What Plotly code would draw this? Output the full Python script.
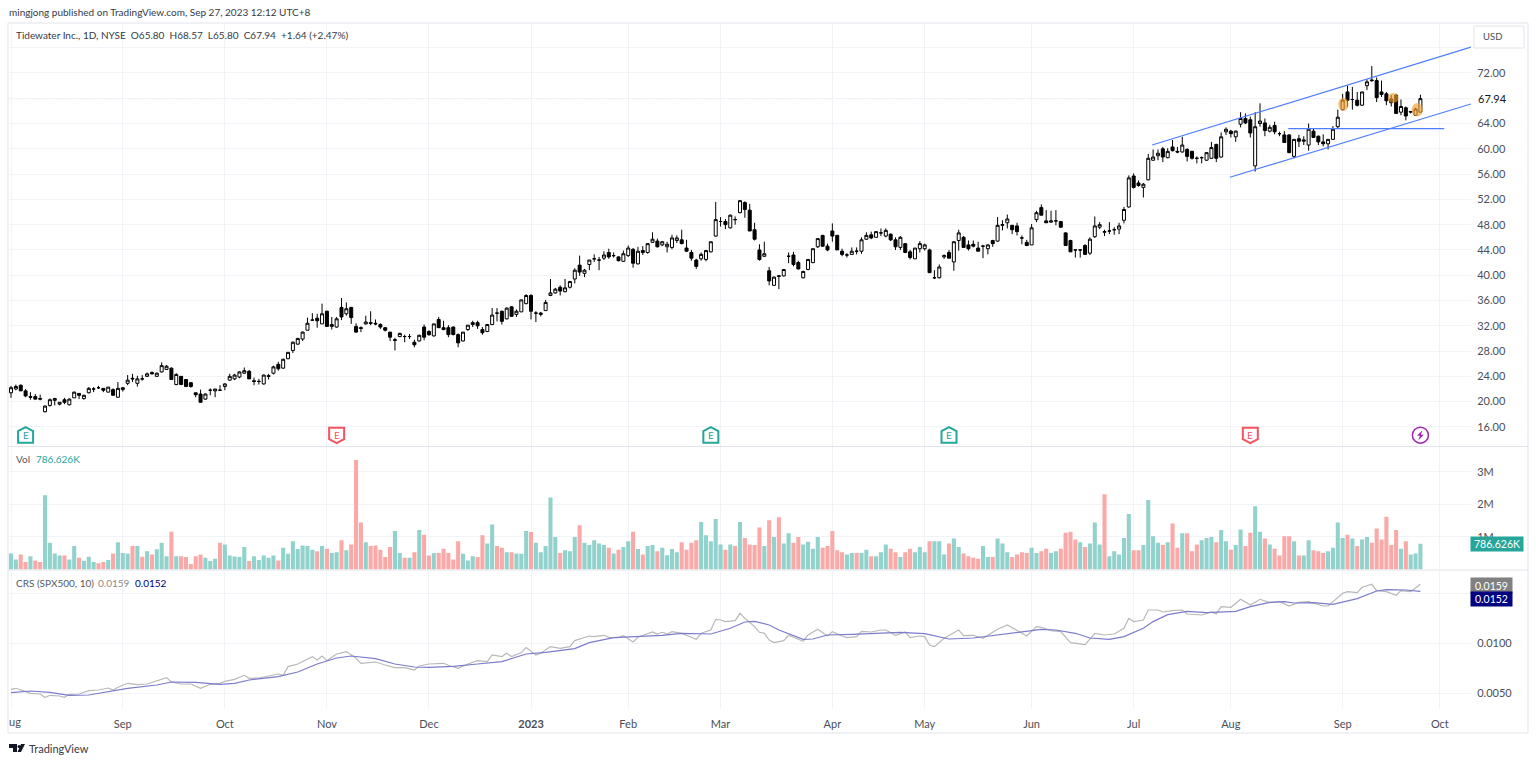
import plotly.graph_objects as go
from plotly.subplots import make_subplots

# Tidewater daily bars, Aug 2022 - Sep 26 2023, one row per 10 bars
opens = [
    21.4, 22.0, 22.6, 21.7, 20.8, 20.8, 20.5, 18.4, 19.4, 20.2,
    19.6, 20.3, 19.5, 20.6, 21.3, 20.5, 21.4, 22.0, 22.2, 22.1,
    21.5, 21.9, 20.7, 21.9, 22.9, 23.7, 22.9, 23.6, 24.0, 24.6,
    24.0, 24.7, 25.1, 25.3, 22.7, 24.0, 23.5, 23.0, 21.4, 21.2,
    20.4, 21.8, 21.7, 21.8, 22.4, 23.4, 23.6, 23.9, 24.5, 24.8,
    23.3, 23.2, 22.8, 24.1, 24.5, 25.9, 25.3, 26.8, 28.1, 29.1,
    29.9, 31.3, 32.9, 33.2, 32.3, 34.3, 31.9, 31.8, 34.9, 33.9,
    34.9, 31.9, 31.7, 32.3, 32.5, 32.4, 32.2, 31.7, 31.0, 29.8,
    30.3, 30.3, 30.3, 29.4, 29.6, 31.8, 31.1, 30.4, 33.0, 31.7,
    31.7, 31.8, 30.6, 29.6, 31.4, 32.2, 32.5, 31.4, 31.1, 32.2,
    34.0, 34.3, 33.1, 35.0, 33.8, 34.2, 35.5, 36.8, 34.0, 33.8,
    34.4, 36.8, 37.2, 38.1, 37.4, 38.1, 39.4, 41.6, 40.3, 41.7,
    42.6, 42.4, 42.7, 43.6, 43.1, 42.9, 42.2, 43.1, 44.1, 41.8,
    43.9, 43.6, 45.2, 45.4, 44.8, 44.5, 44.4, 45.5, 45.6, 44.3,
    43.6, 42.4, 42.6, 42.5, 43.7, 46.2, 48.5, 48.5, 47.5, 48.8,
    49.9, 51.5, 50.3, 47.2, 44.0, 43.0, 40.7, 38.4, 39.8, 39.9,
    43.0, 43.2, 42.0, 39.6, 40.9, 42.0, 44.5, 46.3, 44.6, 47.0,
    46.3, 43.8, 43.2, 43.3, 43.8, 43.8, 45.7, 46.4, 46.0, 46.7,
    46.2, 46.5, 45.6, 44.4, 45.0, 43.7, 42.6, 44.2, 44.2, 44.0,
    39.6, 39.6, 42.9, 43.6, 42.1, 45.5, 46.0, 44.8, 44.9, 44.3,
    44.6, 44.2, 45.5, 45.4, 47.9, 48.3, 47.9, 47.8, 45.9, 45.2,
    44.8, 48.8, 50.7, 48.6, 48.4, 48.6, 48.5, 46.7, 45.5, 44.0,
    44.0, 44.7, 43.5, 46.1, 47.6, 46.8, 47.0, 47.2, 47.3, 48.7,
    50.8, 55.7, 54.6, 53.9, 55.1, 58.2, 58.9, 60.0, 58.6, 60.3,
    59.6, 59.5, 59.9, 59.6, 58.5, 58.6, 58.2, 58.5, 60.7, 58.7,
    62.7, 62.8, 61.9, 63.9, 64.8, 64.6, 57.3, 64.0, 64.1, 62.8,
    63.7, 62.4, 62.2, 62.2, 58.8, 61.6, 61.2, 60.6, 62.8, 62.0,
    61.1, 60.8, 61.5, 63.5, 66.2, 69.0, 67.8, 67.7, 66.9, 70.0,
    70.9, 70.8, 69.0, 68.7, 67.9, 68.5, 65.8, 66.5, 65.8, 65.3, 65.80,
]
highs = [
    22.5, 22.7, 22.7, 22.0, 21.5, 21.2, 21.1, 19.4, 20.5, 20.6,
    19.9, 20.6, 20.5, 21.6, 21.3, 21.1, 22.3, 22.3, 22.5, 22.1,
    22.3, 22.1, 23.1, 22.3, 24.2, 24.4, 24.1, 24.2, 24.6, 24.8,
    24.6, 26.2, 25.8, 25.4, 24.5, 24.0, 23.5, 23.1, 21.4, 21.9,
    21.3, 22.1, 22.0, 22.6, 22.9, 24.4, 24.4, 24.8, 25.4, 25.0,
    23.8, 23.6, 24.3, 24.4, 25.7, 26.3, 26.8, 27.8, 29.5, 30.1,
    31.1, 33.3, 34.0, 33.9, 35.5, 34.4, 33.4, 33.4, 36.4, 35.7,
    35.0, 32.4, 31.9, 33.6, 34.3, 33.0, 32.4, 31.8, 31.0, 30.1,
    30.9, 30.6, 30.7, 29.8, 30.6, 32.2, 31.3, 32.3, 33.4, 32.8,
    32.1, 31.9, 30.8, 31.0, 32.1, 32.8, 32.8, 31.8, 32.3, 34.8,
    34.8, 34.4, 34.9, 35.1, 34.6, 36.1, 37.0, 37.0, 34.3, 34.2,
    36.1, 39.4, 38.0, 38.4, 39.4, 39.1, 41.1, 43.1, 41.0, 42.4,
    43.3, 42.9, 43.8, 44.2, 43.6, 43.0, 43.9, 44.7, 44.3, 44.5,
    44.6, 45.0, 46.8, 45.8, 45.4, 45.3, 46.4, 46.3, 47.2, 45.6,
    44.0, 42.6, 43.6, 44.0, 45.3, 51.6, 49.2, 48.9, 49.6, 49.3,
    51.9, 51.7, 51.3, 48.3, 44.9, 45.3, 41.3, 39.8, 40.0, 41.0,
    43.6, 43.7, 42.3, 40.7, 42.5, 44.2, 45.8, 46.4, 45.0, 48.2,
    46.4, 44.2, 43.5, 44.4, 44.4, 46.0, 46.8, 46.9, 47.0, 47.4,
    47.4, 46.6, 46.0, 46.2, 45.1, 44.0, 44.3, 45.4, 45.0, 44.2,
    40.8, 41.7, 43.3, 44.0, 45.4, 47.2, 46.2, 45.5, 45.5, 45.3,
    44.8, 44.9, 45.6, 49.2, 48.7, 49.6, 47.9, 48.3, 46.3, 45.6,
    48.1, 50.2, 51.2, 50.3, 50.2, 50.3, 48.6, 46.8, 45.6, 44.0,
    44.0, 44.9, 46.0, 49.3, 48.4, 47.2, 48.4, 47.6, 48.3, 50.8,
    55.8, 56.1, 55.0, 54.6, 59.2, 59.9, 59.9, 60.3, 60.1, 61.4,
    60.3, 61.9, 60.1, 59.7, 58.8, 58.8, 59.4, 61.1, 60.8, 62.6,
    63.4, 63.0, 62.9, 65.8, 65.6, 65.1, 65.8, 67.2, 64.8, 63.8,
    64.3, 62.7, 62.8, 62.3, 61.5, 62.2, 62.0, 64.0, 63.2, 62.1,
    62.3, 61.5, 63.6, 66.2, 68.7, 70.0, 69.8, 69.0, 69.0, 71.0,
    73.1, 71.3, 70.8, 69.0, 68.5, 68.7, 67.8, 66.7, 66.0, 66.5, 68.57,
]
lows = [
    20.6, 21.8, 21.7, 20.7, 20.3, 20.3, 20.2, 18.3, 19.2, 19.4,
    19.4, 19.6, 19.4, 20.6, 20.4, 20.3, 21.3, 21.5, 22.0, 21.5,
    21.5, 21.0, 20.6, 21.6, 22.6, 23.1, 22.4, 23.3, 23.9, 24.3,
    24.0, 24.6, 25.0, 23.5, 22.6, 22.7, 22.3, 22.2, 20.7, 19.9,
    20.3, 21.0, 20.7, 21.7, 21.8, 23.3, 23.4, 23.7, 24.4, 23.6,
    22.6, 22.7, 22.7, 23.5, 24.3, 24.9, 25.2, 26.7, 27.7, 29.0,
    29.6, 31.3, 32.8, 31.7, 32.3, 31.9, 31.4, 31.7, 32.9, 33.6,
    32.3, 30.9, 31.0, 32.2, 32.1, 32.1, 31.5, 31.1, 29.6, 28.1,
    30.2, 29.4, 29.9, 28.6, 29.5, 29.7, 30.4, 30.3, 31.7, 31.3,
    30.2, 30.5, 28.6, 29.5, 31.2, 31.8, 31.5, 30.6, 31.0, 32.1,
    32.7, 32.2, 33.0, 33.4, 33.4, 34.2, 35.4, 33.0, 32.6, 33.5,
    34.4, 36.7, 37.1, 36.8, 37.3, 37.9, 38.7, 39.9, 39.7, 40.8,
    42.1, 40.8, 42.4, 42.6, 42.8, 42.2, 42.2, 42.9, 41.2, 41.7,
    43.2, 43.4, 45.1, 44.4, 44.6, 43.6, 44.1, 45.1, 44.9, 43.7,
    42.3, 41.0, 42.3, 42.2, 43.6, 46.1, 47.7, 47.3, 47.4, 48.0,
    49.8, 49.1, 47.0, 45.5, 42.3, 42.9, 38.4, 38.3, 37.8, 39.8,
    41.9, 41.4, 40.9, 39.5, 40.8, 41.9, 44.3, 44.5, 43.8, 45.3,
    44.0, 43.0, 42.8, 43.2, 43.3, 43.4, 45.6, 45.7, 46.0, 46.2,
    46.0, 45.4, 44.0, 44.0, 43.5, 42.5, 42.6, 43.6, 43.9, 40.4,
    39.4, 39.5, 42.6, 42.7, 40.7, 43.9, 44.4, 43.9, 44.4, 43.8,
    42.7, 43.3, 44.5, 45.3, 47.1, 47.4, 46.5, 46.3, 44.9, 44.6,
    44.8, 48.4, 49.5, 48.3, 48.3, 47.9, 47.5, 44.7, 43.7, 42.8,
    42.8, 43.2, 43.2, 45.9, 47.3, 46.2, 46.5, 46.4, 46.5, 48.2,
    50.7, 53.7, 54.0, 52.3, 55.0, 58.1, 58.2, 57.9, 58.5, 59.6,
    59.3, 59.4, 58.0, 58.3, 57.7, 57.7, 58.1, 58.4, 57.9, 58.6,
    62.2, 61.8, 61.1, 63.4, 63.9, 61.8, 56.4, 63.5, 62.0, 62.6,
    62.3, 62.0, 61.0, 59.3, 58.5, 60.3, 60.6, 59.7, 61.7, 60.6,
    60.4, 59.9, 61.4, 63.3, 66.1, 66.6, 66.2, 66.7, 66.8, 69.3,
    70.6, 67.4, 68.2, 66.9, 66.7, 65.6, 65.3, 64.5, 65.6, 65.2, 65.80,
]
closes = [
    22.2, 22.4, 21.7, 20.9, 20.7, 20.4, 20.4, 19.3, 20.3, 20.5,
    19.9, 19.9, 20.4, 21.5, 21.0, 21.0, 22.1, 22.0, 22.2, 21.8,
    22.3, 21.0, 22.1, 22.2, 23.4, 23.6, 23.6, 23.6, 24.4, 24.4,
    24.5, 25.7, 25.6, 23.5, 24.3, 22.7, 22.4, 22.4, 21.1, 19.9,
    21.2, 21.8, 22.0, 21.8, 22.8, 24.0, 24.2, 24.7, 24.9, 23.6,
    23.2, 23.2, 24.2, 24.0, 25.5, 25.2, 26.7, 27.8, 29.4, 30.0,
    31.0, 32.4, 32.9, 32.8, 33.9, 31.9, 32.2, 33.1, 33.4, 34.7,
    33.3, 31.0, 31.6, 32.6, 32.4, 32.3, 31.8, 31.3, 30.2, 29.7,
    30.8, 30.3, 30.3, 29.0, 30.5, 30.2, 30.6, 32.3, 31.7, 31.4,
    30.6, 30.6, 29.3, 31.0, 32.1, 32.5, 32.0, 30.9, 32.2, 33.7,
    34.0, 32.7, 34.8, 33.5, 34.3, 36.1, 36.8, 34.3, 34.0, 34.0,
    35.7, 37.2, 37.8, 37.5, 38.0, 39.0, 40.8, 40.5, 40.8, 42.4,
    42.6, 42.4, 43.2, 42.9, 43.1, 42.3, 43.4, 44.3, 41.9, 43.8,
    43.6, 45.0, 45.7, 44.5, 45.3, 44.9, 45.9, 45.9, 45.0, 43.8,
    42.7, 41.4, 43.3, 43.9, 45.3, 48.8, 48.5, 48.0, 49.5, 48.8,
    51.8, 50.4, 47.0, 45.7, 42.5, 43.4, 39.1, 39.7, 39.9, 40.9,
    43.0, 41.7, 41.0, 40.6, 42.5, 44.2, 45.8, 44.6, 44.0, 46.2,
    44.0, 43.3, 43.2, 43.8, 43.8, 45.6, 46.3, 45.9, 46.9, 46.7,
    47.1, 45.6, 44.5, 46.0, 43.6, 42.8, 44.3, 45.0, 44.8, 40.4,
    39.6, 41.3, 43.1, 42.7, 45.3, 46.7, 44.4, 44.2, 44.6, 43.8,
    44.6, 44.8, 45.0, 47.9, 48.0, 48.9, 47.2, 46.9, 45.9, 44.7,
    47.5, 49.9, 49.5, 48.3, 48.6, 48.6, 47.6, 44.7, 43.7, 44.0,
    44.0, 43.3, 45.7, 47.8, 48.0, 46.9, 47.0, 47.2, 47.8, 50.4,
    55.4, 53.9, 54.2, 54.4, 58.5, 58.7, 59.3, 58.7, 59.6, 59.7,
    59.5, 60.6, 58.8, 58.5, 58.5, 58.6, 59.4, 60.2, 58.5, 61.9,
    63.1, 62.4, 62.8, 64.8, 64.1, 62.5, 63.5, 64.4, 62.9, 63.4,
    62.7, 62.4, 61.0, 59.4, 61.5, 61.2, 61.4, 63.1, 61.8, 61.1,
    60.8, 61.5, 63.1, 65.0, 67.7, 67.7, 67.8, 66.9, 69.0, 70.6,
    70.8, 68.1, 68.6, 67.6, 67.3, 65.6, 66.7, 65.2, 65.9, 66.3, 67.94,
]

# volume in millions
volume = [
    0.49, 0.31, 0.46, 0.23, 0.41, 0.28, 0.23, 2.28, 0.82, 0.49,
    0.43, 0.43, 0.31, 0.72, 0.36, 0.27, 0.39, 0.23, 0.19, 0.23,
    0.29, 0.49, 0.84, 0.51, 0.49, 0.72, 0.72, 0.39, 0.56, 0.46,
    0.62, 0.82, 0.41, 1.16, 0.41, 0.41, 0.38, 0.17, 0.41, 0.46,
    0.36, 0.26, 0.33, 0.82, 0.77, 0.43, 0.40, 0.38, 0.69, 0.26,
    0.41, 0.29, 0.43, 0.36, 0.43, 0.28, 0.67, 0.48, 0.87, 0.63,
    0.74, 0.72, 0.61, 0.56, 0.72, 0.64, 0.51, 0.53, 0.90, 0.59,
    0.77, 3.36, 1.44, 0.84, 0.72, 0.74, 0.61, 0.38, 0.69, 1.18,
    0.51, 0.36, 0.36, 0.53, 1.21, 1.07, 0.43, 0.51, 0.51, 0.64,
    0.51, 0.31, 0.87, 0.48, 0.28, 0.41, 0.38, 1.05, 0.80, 1.38,
    0.72, 0.67, 0.53, 0.53, 0.49, 0.48, 1.18, 1.15, 0.82, 0.53,
    0.72, 2.21, 1.00, 0.51, 0.59, 0.56, 1.00, 1.36, 0.82, 0.75,
    0.90, 0.80, 0.75, 0.67, 0.49, 0.61, 0.69, 0.87, 1.16, 0.63,
    0.46, 0.72, 0.75, 0.56, 0.67, 0.44, 0.63, 0.53, 0.84, 0.61,
    0.82, 0.90, 1.46, 1.05, 0.87, 1.55, 0.77, 0.61, 0.77, 0.72,
    1.46, 0.97, 0.77, 0.75, 1.29, 0.72, 1.51, 1.00, 1.60, 0.80,
    1.11, 0.82, 1.00, 0.77, 0.85, 0.64, 1.00, 0.67, 0.72, 1.18,
    0.59, 0.53, 0.46, 0.51, 0.51, 0.51, 0.61, 0.41, 0.41, 0.53,
    0.77, 0.64, 0.53, 0.38, 0.53, 0.64, 0.53, 0.69, 0.53, 0.87,
    0.87, 0.87, 0.46, 0.80, 0.95, 0.69, 0.49, 0.41, 0.36, 0.33,
    0.72, 0.38, 0.38, 0.95, 0.80, 0.53, 0.38, 0.46, 0.53, 0.51,
    0.67, 0.51, 0.56, 0.64, 0.51, 0.56, 0.64, 1.13, 1.16, 0.92,
    0.84, 0.69, 0.80, 1.44, 0.77, 2.31, 0.41, 0.56, 0.46, 0.97,
    1.70, 0.59, 0.59, 0.75, 2.13, 1.02, 0.82, 0.75, 0.84, 1.41,
    0.67, 1.11, 1.11, 0.56, 0.77, 0.90, 0.97, 1.00, 0.84, 1.21,
    0.87, 0.61, 0.75, 1.23, 0.72, 1.13, 1.94, 1.16, 0.95, 0.77,
    0.64, 0.43, 1.02, 1.02, 0.87, 0.43, 0.43, 0.90, 0.59, 0.56,
    0.51, 0.56, 0.67, 1.44, 0.97, 1.07, 0.95, 0.72, 0.92, 1.00,
    0.82, 1.26, 0.92, 1.62, 0.75, 1.21, 0.64, 0.87, 0.46, 0.49, 0.787,
]
# G / R bar colour per bar, as seen in the volume pane
vol_side = (
    "GGRRGRRGGG" "GRGGRGGGRR" "GRGGGRGRGR" "GGGRGRRRRR" "GGGRGGGGGR"
    "GGGGGRGGGG" "GGGRGRGGRG" "RRRGRRRRRG" "GRGRGRRGRR" "RRRGGGRRGG"
    "RRGRGGGRGG" "GGGRGGGRGG" "GGGRGRGGRG" "RGGRGGGGRR" "RRGGGGGRGR"
    "GRRRRGRGRG" "GRRGGGGRRR" "RRGGRGGRGG" "GRRGRRGGGR" "GGGRGGRRRR"
    "GGRGGGRRRR" "GGRRGGRRRR" "GRGGGRGGGG" "GRRGGGGRGR" "RGRRRGGGRG"
    "GRGGRRGGRG" "RRRRGRGGRR" "RGGGGRGRGG" "RRRRRRGRGGG"
)

# CRS line and its average, vertices read at these bar numbers
crs_bar = [
    0, 1, 3, 4, 6, 7, 8, 10, 11, 12, 14, 16, 18, 20, 21, 22, 24, 26, 28, 30,
    32, 33, 35, 37, 39, 41, 43, 44, 46, 48, 49, 51, 53, 55, 56, 57, 59, 62, 63, 64,
    65, 67, 69, 71, 72, 74, 75, 77, 79, 81, 83, 84, 86, 89, 90, 92, 94, 96, 98, 99,
    101, 102, 103, 105, 106, 108, 109, 111, 113, 115, 116, 119, 120, 122, 123, 125, 126, 128, 129, 132,
    133, 134, 135, 136, 138, 141, 142, 144, 145, 146, 147, 149, 150, 151, 153, 154, 155, 156, 157, 159,
    160, 161, 163, 164, 166, 168, 169, 171, 172, 174, 175, 177, 179, 180, 182, 184, 185, 187, 188, 189,
    190, 192, 195, 196, 198, 200, 203, 205, 207, 209, 211, 212, 214, 216, 218, 221, 223, 225, 227, 229,
    230, 231, 233, 234, 236, 237, 239, 241, 242, 245, 247, 248, 249, 251, 253, 255, 257, 259, 261, 263,
    265, 267, 270, 271, 274, 275, 277, 278, 280, 281, 283, 285, 286, 288, 290,
]
crs_val = [
    .0054, .0055, .00517, .0050, .00493, .00457, .0048, .00473, .0046, .0049, .00493, .00527, .00533, .00553, .00533, .0056, .0060, .00587, .00593, .00627,
    .00657, .00613, .00593, .00593, .0055, .0059, .0060, .0062, .0064, .0068, .0065, .00653, .00673, .00693, .0068, .00767, .00793, .00867, .00833, .00873,
    .00827, .00893, .00917, .0085, .0080, .00813, .00813, .00783, .00757, .00757, .00733, .00773, .00793, .0080, .0078, .0075, .00793, .00827, .00817, .00883,
    .00867, .0090, .00867, .00907, .00957, .00883, .0090, .00967, .0095, .00967, .01027, .01073, .01067, .0108, .0106, .01057, .01077, .01013, .0106, .01113,
    .01093, .0111, .01093, .01117, .0110, .0104, .0110, .01133, .0124, .01233, .01217, .01227, .0130, .0125, .01167, .0111, .0110, .01033, .01007, .01027,
    .0108, .0106, .0102, .01083, .0114, .01073, .01117, .01073, .01057, .01067, .0112, .01113, .01133, .01133, .0108, .01113, .01057, .01073, .01067, .00983,
    .00967, .0105, .01133, .01077, .0108, .0105, .0114, .01183, .01127, .01073, .01167, .0116, .01127, .01117, .01007, .00987, .0110, .01083, .01093, .0115,
    .0125, .01217, .01233, .01333, .01333, .01313, .01327, .01333, .01293, .01283, .01313, .01293, .01367, .0136, .0144, .01383, .0144, .01407, .01417, .01373,
    .0141, .01417, .01373, .01373, .0150, .01517, .01507, .0156, .0159, .01527, .01517, .0148, .01527, .01517, .0159,
]
ma_bar = [
    0, 4, 8, 12, 16, 20, 24, 30, 33, 38, 43, 46, 49, 55, 59, 63, 67, 70, 75, 79,
    83, 86, 91, 96, 101, 106, 110, 116, 119, 124, 128, 134, 138, 144, 148, 151, 153, 156, 158, 163,
    165, 168, 173, 179, 183, 188, 193, 198, 202, 207, 212, 215, 219, 222, 226, 229, 233, 235, 238, 242,
    246, 252, 255, 259, 262, 264, 268, 272, 277, 281, 283, 287, 290,
]
ma_val = [
    .00507, .00523, .0051, .0048, .00483, .00513, .0055, .00583, .00613, .0061, .0059, .0060, .00633, .00667, .00713, .00793, .00853, .00873, .00847, .00793,
    .00763, .0076, .0077, .00793, .00817, .00893, .0091, .00947, .01007, .01057, .01067, .0108, .0110, .01093, .0115, .01213, .0122, .01183, .01133, .0104,
    .01043, .01083, .0109, .0110, .0111, .01097, .01043, .01053, .01077, .01113, .0114, .01133, .0110, .01053, .0104, .01067, .0115, .01217, .01287, .0132,
    .01307, .0132, .01367, .0141, .01417, .01403, .01407, .0139, .01447, .01523, .01537, .01533, .0152,
]

month_bar = [0, 23, 44, 65, 86, 107, 127, 146, 169, 188, 210, 231, 251, 274, 294]
month_text = ["", "Sep", "Oct", "Nov", "Dec", "<b>2023</b>", "Feb", "Mar", "Apr", "May", "Jun", "Jul", "Aug", "Sep", "Oct"]

price_ticks = [16, 20, 24, 28, 32, 36, 40, 44, 48, 52, 56, 60, 64, 68, 72, 76]
price_text = ["16.00", "20.00", "24.00", "28.00", "32.00", "36.00", "40.00", "44.00", "48.00", "52.00", "56.00", "60.00", "64.00", "", "72.00", ""]
vol_ticks = [1, 2, 3]
vol_text = ["1M", "2M", "3M"]
crs_ticks = [0.005, 0.01, 0.015]
crs_text = ["0.0050", "0.0100", ""]

# hand-drawn things on the chart, in bar number / price
channel_upper = ([234.8, 300.4], [60.6, 76.1])
channel_lower = ([250.8, 300.4], [55.5, 67.1])
support_line = ([262.8, 294.9], [63.2, 63.2])
highlight_x = [(273.1, 275.2), (283.3, 285.5), (288.2, 290.5)]
highlight_y = [(66.0, 68.1), (67.25, 68.84), (65.1, 67.25)]
earn_good = [3, 144, 193]
earn_bad = [67, 255]
dividend_bar = 290
marker_price = 14.7

FONT = "Lato"
TEXT = "#4a4e59"
GRID = "#f1f3f8"
FRAME = "#e0e3eb"
W, H = 1536, 763
X_RANGE = [-0.62, 300.41]

assert len(opens) == len(highs) == len(lows) == len(closes) == len(volume) == len(vol_side) == 291
assert len(crs_bar) == len(crs_val) and len(ma_bar) == len(ma_val)

bars = list(range(len(closes)))


def px(x):
    return x / W


def py(y):
    return 1 - y / H


fig = make_subplots(rows=3, cols=1, shared_xaxes=False)

fig.add_trace(go.Candlestick(
    x=bars, open=opens, high=highs, low=lows, close=closes,
    increasing=dict(line=dict(color="#000000", width=1), fillcolor="#ffffff"),
    decreasing=dict(line=dict(color="#000000", width=1), fillcolor="#000000"),
    whiskerwidth=0, hoverinfo="skip", showlegend=False), row=1, col=1)

vol_colors = ["#92d2cc" if s == "G" else "#f9a9a7" for s in vol_side]
fig.add_trace(go.Bar(x=bars, y=volume, marker=dict(color=vol_colors, line_width=0),
                     hoverinfo="skip", showlegend=False), row=2, col=1)

fig.add_trace(go.Scatter(x=crs_bar, y=crs_val, mode="lines", line=dict(color="#b8b8b8", width=1.2),
                         hoverinfo="skip", showlegend=False), row=3, col=1)
fig.add_trace(go.Scatter(x=ma_bar, y=ma_val, mode="lines", line=dict(color="#7c7ccc", width=1.2),
                         hoverinfo="skip", showlegend=False), row=3, col=1)

fig.update_layout(
    width=W, height=H, margin=dict(l=0, r=0, t=0, b=0),
    paper_bgcolor="white", plot_bgcolor="white", bargap=0.16, boxgap=0.12,
    font=dict(family=FONT, size=11, color=TEXT), showlegend=False,
    xaxis_rangeslider_visible=False,
)

x_dom = [px(8), px(1471)]
for name, shown in (("xaxis", False), ("xaxis2", False), ("xaxis3", True)):
    fig.layout[name].update(
        domain=x_dom, range=X_RANGE, tickmode="array", tickvals=month_bar, ticktext=month_text,
        showticklabels=shown, showgrid=True, gridcolor=GRID, gridwidth=1, zeroline=False, showline=False,
        ticks="outside" if shown else "", ticklen=6, tickcolor="rgba(0,0,0,0)",
        tickfont=dict(size=11, color=TEXT, family=FONT),
    )

y_common = dict(side="right", showgrid=True, gridcolor=GRID, gridwidth=1, zeroline=False, showline=False,
                ticks="outside", ticklen=3, tickcolor="rgba(0,0,0,0)", tickmode="array",
                tickfont=dict(size=11, color=TEXT, family=FONT))
fig.update_yaxes(domain=[py(446), py(23)], range=[12.98, 79.91], tickvals=price_ticks, ticktext=price_text,
                 row=1, col=1, **y_common)
fig.update_yaxes(domain=[py(569.5), py(447)], range=[0, 3.76], tickvals=vol_ticks, ticktext=vol_text,
                 row=2, col=1, **y_common)
fig.update_yaxes(domain=[py(708), py(571)], range=[0.00353, 0.01723], tickvals=crs_ticks, ticktext=crs_text,
                 row=3, col=1, **y_common)

# frame and pane separators
fig.add_shape(type="rect", xref="paper", yref="paper", x0=px(8), x1=px(1528), y0=py(733), y1=py(23),
              line=dict(color=FRAME, width=1), layer="below")
for sep in (446.5, 570):
    fig.add_shape(type="line", xref="paper", yref="paper", x0=px(8), x1=px(1528), y0=py(sep), y1=py(sep),
                  line=dict(color=FRAME, width=1), layer="below")

# last close dotted line
fig.add_shape(type="line", xref="x", yref="y", x0=X_RANGE[0], x1=X_RANGE[1], y0=closes[-1], y1=closes[-1],
              line=dict(color="#d5d8e0", width=1, dash="dot"), layer="below")

# orange highlights
for (x0, x1), (y0, y1) in zip(highlight_x, highlight_y):
    fig.add_shape(type="circle", xref="x", yref="y", x0=x0, x1=x1, y0=y0, y1=y1,
                  fillcolor="#f5a030", opacity=0.65, line_width=0, layer="above")

# channel
for xs, ys in (channel_upper, channel_lower, support_line):
    fig.add_shape(type="line", xref="x", yref="y", x0=xs[0], x1=xs[1], y0=ys[0], y1=ys[1],
                  line=dict(color="#4f7dff", width=1.2), layer="above")


def add_text(x, y, text, color=TEXT, size=10, anchor="left", **kw):
    fig.add_annotation(xref="paper", yref="paper", x=px(x), y=py(y), text=text, showarrow=False,
                       xanchor=anchor, yanchor="middle", font=dict(size=size, color=color, family=FONT),
                       borderpad=0, **kw)


# earnings and dividend flags
for bar in earn_good:
    fig.add_shape(type="path", xref="x", yref="y", xsizemode="pixel", ysizemode="pixel",
                  xanchor=bar, yanchor=marker_price, path="M -7.5,-7.5 L 7.5,-7.5 L 7.5,4 L 0,8 L -7.5,4 Z",
                  fillcolor="white", line=dict(color="#26a69a", width=2), layer="above")
    fig.add_annotation(x=bar, y=marker_price, xref="x", yref="y", text="E", showarrow=False,
                       font=dict(size=10, color="#26a69a", family=FONT))
for bar in earn_bad:
    fig.add_shape(type="path", xref="x", yref="y", xsizemode="pixel", ysizemode="pixel",
                  xanchor=bar, yanchor=marker_price, path="M -7.5,7.5 L 7.5,7.5 L 7.5,-4 L 0,-8 L -7.5,-4 Z",
                  fillcolor="white", line=dict(color="#f7525f", width=2), layer="above")
    fig.add_annotation(x=bar, y=marker_price, xref="x", yref="y", text="E", showarrow=False,
                       font=dict(size=10, color="#f7525f", family=FONT))
fig.add_shape(type="circle", xref="x", yref="y", xsizemode="pixel", ysizemode="pixel",
              xanchor=dividend_bar, yanchor=marker_price, x0=-8, x1=8, y0=-8, y1=8,
              fillcolor="white", line=dict(color="#9c27b0", width=1.5), layer="above")
fig.add_shape(type="path", xref="x", yref="y", xsizemode="pixel", ysizemode="pixel",
              xanchor=dividend_bar, yanchor=marker_price, path="M 2,5 L -3.5,-0.5 L -0.5,-0.5 L -2,-5 L 3.5,0.5 L 0.5,0.5 Z",
              fillcolor="#9c27b0", line_width=0, layer="above")

# header and legends
add_text(8, 12, "mingjong published on TradingView.com, Sep 27, 2023 12:12 UTC+8", color="#363a45")
add_text(15, 35, "Tidewater Inc., 1D, NYSE&nbsp;&nbsp;O65.80&nbsp;&nbsp;H68.57&nbsp;&nbsp;L65.80&nbsp;&nbsp;C67.94&nbsp;&nbsp;+1.64 (+2.47%)", color="#363a45")
add_text(15, 459, "Vol", color="#555963")
add_text(35, 459, "786.626K", color="#26a69a")
add_text(15, 583, "CRS (SPX500, 10)", color="#555963")
add_text(97, 583, "0.0159", color="#8a8a8a")
add_text(134, 583, "0.0152", color="#000080")
add_text(8, 721, "ug", size=11)

# right axis boxes
fig.add_shape(type="rect", xref="paper", yref="paper", x0=px(1474), x1=px(1524), y0=py(48), y1=py(26),
              line=dict(color=FRAME, width=1), fillcolor="white", layer="above")
add_text(1482, 37, "USD", size=9.5)
add_text(1477, 98, "67.94", color="#131722", size=11)
add_text(1497, 544, "786.626K", color="white", size=10.5, anchor="center", bgcolor="#26a69a", width=52, height=14)
add_text(1491.5, 585, "0.0159", color="white", size=10.5, anchor="center", bgcolor="#808080", width=41, height=15)
add_text(1491.5, 599, "0.0152", color="white", size=10.5, anchor="center", bgcolor="#000080", width=41, height=14)

# logo
fig.add_shape(type="path", xref="paper", yref="paper", line_width=0, fillcolor="#131722",
              path=f"M {px(9)},{py(744)} L {px(17)},{py(744)} L {px(17)},{py(752)} L {px(13)},{py(752)} L {px(13)},{py(748)} L {px(9)},{py(748)} Z")
fig.add_shape(type="circle", xref="paper", yref="paper", line_width=0, fillcolor="#131722",
              x0=px(17.5), x1=px(20.5), y0=py(748), y1=py(745))
fig.add_shape(type="path", xref="paper", yref="paper", line_width=0, fillcolor="#131722",
              path=f"M {px(21)},{py(744)} L {px(25)},{py(744)} L {px(21)},{py(752)} L {px(17.5)},{py(752)} Z")
add_text(28, 748, "TradingView", color="#363a45", size=11)

fig.write_html("out.html", config=dict(displayModeBar=False),
               post_script="document.body.style.margin='0';document.body.style.overflow='hidden';")
